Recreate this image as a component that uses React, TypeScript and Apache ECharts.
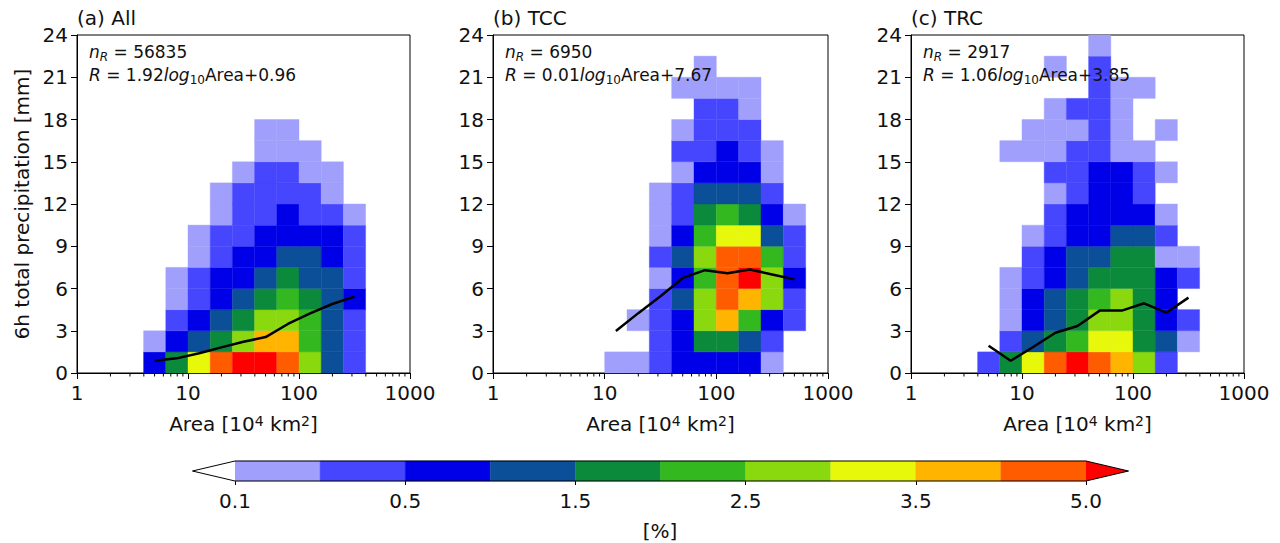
import React, { useEffect, useRef } from 'react';
import * as echarts from 'echarts';

// ---- bins ----
const areaEdges = [1, 1.585, 2.512, 3.981, 6.31, 10, 15.85, 25.12, 39.81, 63.1, 100, 158.5, 251.2, 398.1, 631, 1000];
const precipEdges = [0, 1.5, 3, 4.5, 6, 7.5, 9, 10.5, 12, 13.5, 15, 16.5, 18, 19.5, 21, 22.5, 24];
const minorTickAreas = [2, 3, 4, 5, 6, 7, 8, 9, 20, 30, 40, 50, 60, 70, 80, 90, 200, 300, 400, 500, 600, 700, 800, 900];

// ---- colour levels [%] ----
const levels = [0.1, 0.3, 0.5, 1.0, 1.5, 2.0, 2.5, 3.0, 3.5, 4.0, 5.0];
const levelLabels = ['0.1', '0.3', '0.5', '1.0', '1.5', '2.0', '2.5', '3.0', '3.5', '4.0', '5.0'];
const levelColors = ['#a0a0fc', '#4646ff', '#0000e8', '#0b4f98', '#0b8a3c', '#33b81f', '#8ad80e', '#e8f80a', '#ffb400', '#ff5c00'];
const overColor = '#ff0000';
const underColor = '#ffffff';

// ---- panel (a) All: columns of frequency [%] from first area bin, rows from 0 mm upward ----
const allFirstBin = 3;
const allColumns = [
  [0.8, 0.2],
  [1.8, 0.8, 0.4, 0.2, 0.2],
  [3.2, 1.2, 0.8, 0.4, 0.4, 0.2, 0.2],
  [4.5, 1.8, 1.2, 0.8, 0.8, 0.4, 0.4, 0.2, 0.2],
  [5.3, 2.8, 1.8, 1.2, 0.8, 0.8, 0.4, 0.4, 0.4, 0.2],
  [5.3, 3.8, 2.8, 1.8, 1.2, 0.8, 0.8, 0.4, 0.4, 0.4, 0.2, 0.2],
  [4.5, 3.8, 2.8, 2.2, 1.8, 1.2, 0.8, 0.8, 0.4, 0.4, 0.2, 0.2],
  [2.8, 2.2, 2.2, 1.8, 1.2, 1.2, 0.8, 0.4, 0.4, 0.2, 0.2],
  [1.2, 1.2, 1.2, 1.2, 1.2, 0.8, 0.8, 0.4, 0.2, 0.2],
  [0.4, 0.4, 0.4, 0.8, 0.4, 0.4, 0.4, 0.2],
];
const allLineArea = [5.0, 7.9, 12.6, 20.0, 31.6, 50.1, 79.4, 125.9, 199.5, 316.2];
const allLinePrecip = [0.87, 1.04, 1.4, 1.82, 2.22, 2.55, 3.48, 4.24, 4.9, 5.42];

// ---- panel (b) TCC ----
const tccFirstBin = 5;
const tccColumns = [
  [0.2],
  [0.2, 0, 0.2],
  [0.4, 0.4, 0.4, 0.4, 0.2, 0.4, 0.2, 0.2, 0.2],
  [0.8, 0.8, 0.8, 1.2, 0.8, 1.2, 0.8, 0.4, 0.4, 0.2, 0.4, 0.2, 0, 0.2],
  [0.8, 1.8, 2.8, 2.8, 2.2, 2.8, 2.2, 1.8, 1.2, 0.8, 0.4, 0.4, 0.4, 0.2, 0.2],
  [0.8, 1.8, 3.8, 4.5, 4.5, 4.5, 3.2, 2.2, 1.2, 0.8, 0.8, 0.4, 0.4, 0.2],
  [0.8, 1.2, 2.2, 3.8, 5.3, 4.5, 3.2, 1.8, 1.2, 0.8, 0.4, 0.4, 0.2, 0.2],
  [0.2, 0.4, 0.8, 2.8, 2.8, 2.2, 1.2, 0.8, 0.4, 0.2, 0.2],
  [0, 0, 0.4, 0.4, 0.8, 0.4, 0.4, 0.2],
];
const tccLineArea = [12.6, 20.0, 31.6, 50.1, 79.4, 125.9, 199.5, 316.2, 501.2];
const tccLinePrecip = [2.98, 4.25, 5.45, 6.75, 7.3, 7.08, 7.35, 7.0, 6.65];

// ---- panel (c) TRC ----
const trcFirstBin = 3;
const trcColumns = [
  [0.4],
  [1.8, 0.4, 0.2, 0.2, 0.2, 0, 0, 0, 0, 0, 0.2],
  [3.2, 1.2, 0.8, 0.8, 0.4, 0.4, 0.2, 0, 0, 0, 0.2, 0.2],
  [4.5, 1.8, 1.2, 1.2, 0.8, 0.8, 0.4, 0.4, 0.2, 0.4, 0.2, 0.2, 0.2, 0, 0.2],
  [5.3, 2.2, 1.8, 1.8, 1.2, 1.2, 0.8, 0.8, 0.4, 0.4, 0.4, 0.2, 0.4],
  [4.5, 3.2, 2.8, 2.2, 1.8, 1.2, 0.8, 0.8, 0.8, 0.8, 0.4, 0.4, 0.4, 0.4, 0.4, 0.2],
  [3.8, 3.2, 2.8, 2.8, 1.8, 1.8, 1.2, 0.8, 0.8, 0.8, 0.2, 0.2, 0.2, 0.2],
  [2.8, 1.8, 1.8, 1.8, 1.8, 1.8, 1.2, 0.8, 0.4, 0.4, 0.2, 0, 0, 0.2],
  [0.4, 1.2, 0.8, 0.8, 0.8, 0.2, 0.4, 0.2, 0, 0.2, 0, 0.2],
  [0, 0.2, 0.4, 0, 0.4, 0.2],
];
const trcLineArea = [5.0, 7.9, 12.6, 20.0, 31.6, 50.1, 79.4, 125.9, 199.5, 316.2];
const trcLinePrecip = [1.94, 0.87, 1.85, 2.86, 3.34, 4.43, 4.43, 4.95, 4.28, 5.35];

// ---- texts ----
const panelTitles = ['(a) All', '(b) TCC', '(c) TRC'];
const panelCounts = ['56835', '6950', '2917'];
const fitSlopes = ['1.92', '0.01', '1.06'];
const fitIntercepts = ['0.96', '7.67', '3.85'];

const FONT = 'DejaVu Sans';
const TXT = '#111111';

const gridLefts = [77, 493, 911];
const gridWidths = [333, 335, 333];
const GRID_TOP = 35;
const GRID_H = 338;

function colorFor(v: number): string {
  if (v >= levels[levels.length - 1]) return overColor;
  if (v < levels[0]) return underColor;
  for (let i = 0; i < levelColors.length; i++) {
    if (v >= levels[i] && v < levels[i + 1]) return levelColors[i];
  }
  return overColor;
}

function buildCells(first: number, cols: number[][]) {
  const out: number[][] = [];
  cols.forEach((col, ci) => {
    col.forEach((v, j) => {
      if (v > 0) {
        const k = first + ci;
        out.push([areaEdges[k], precipEdges[j], v, k, j]);
      }
    });
  });
  return out;
}

export default function App() {
  const ref = useRef<HTMLDivElement>(null);
  useEffect(() => {
    if (!ref.current) return;
    const chart = echarts.init(ref.current, undefined, { renderer: 'svg' });
    const panels = [
      { first: allFirstBin, cols: allColumns, lx: allLineArea, ly: allLinePrecip },
      { first: tccFirstBin, cols: tccColumns, lx: tccLineArea, ly: tccLinePrecip },
      { first: trcFirstBin, cols: trcColumns, lx: trcLineArea, ly: trcLinePrecip },
    ];

    const grids: any[] = panels.map((_, i) => ({
      left: gridLefts[i], top: GRID_TOP, width: gridWidths[i], height: GRID_H,
      show: true, borderColor: '#000', borderWidth: 1, backgroundColor: 'transparent',
      containLabel: false, outerBoundsMode: 'none',
    }));
    grids.push({ left: 235, top: 461, width: 851, height: 20, show: false, containLabel: false, outerBoundsMode: 'none' });

    const xAxes: any[] = panels.map((_, i) => ({
      type: 'log', logBase: 10, min: 1, max: 1000, gridIndex: i,
      axisLine: { show: true, onZero: false, lineStyle: { color: '#000', width: 1 } },
      axisTick: { show: true, inside: false, length: 6, lineStyle: { color: '#000', width: 1 } },
      axisLabel: { show: true, fontSize: 20, fontFamily: FONT, color: TXT, margin: 10, formatter: (v: number) => String(Math.round(v)) },
      splitLine: { show: false }, minorTick: { show: false }, minorSplitLine: { show: false },
    }));
    xAxes.push({
      type: 'value', min: 0, max: 10, interval: 2, gridIndex: 3,
      axisLine: { show: false },
      axisTick: { show: true, length: 4, lineStyle: { color: '#000', width: 1 } },
      axisLabel: { fontSize: 20, fontFamily: FONT, color: TXT, margin: 10, formatter: (v: number) => levelLabels[Math.round(v)] },
      splitLine: { show: false },
    });
    const yAxes: any[] = panels.map((_, i) => ({
      type: 'value', min: 0, max: 24, interval: 3, gridIndex: i,
      axisLine: { show: true, onZero: false, lineStyle: { color: '#000', width: 1 } },
      axisTick: { show: true, inside: false, length: 6, lineStyle: { color: '#000', width: 1 } },
      axisLabel: { fontSize: 20, fontFamily: FONT, color: TXT, margin: 9 },
      splitLine: { show: false },
    }));
    yAxes.push({ type: 'value', min: 0, max: 1, gridIndex: 3, show: false });

    const series: any[] = [];
    panels.forEach((p, i) => {
      series.push({
        type: 'custom', xAxisIndex: i, yAxisIndex: i, clip: false, silent: true,
        data: buildCells(p.first, p.cols),
        encode: { x: 0, y: 1 },
        renderItem: (params: any, api: any) => {
          const k = api.value(3);
          const j = api.value(4);
          const v = api.value(2);
          const p0 = api.coord([areaEdges[k], precipEdges[j]]);
          const p1 = api.coord([areaEdges[k + 1], precipEdges[j + 1]]);
          const c = colorFor(v);
          return {
            type: 'rect',
            shape: { x: p0[0], y: p1[1], width: p1[0] - p0[0], height: p0[1] - p1[1] },
            style: { fill: c, stroke: c, lineWidth: 0.4 },
          };
        },
        z: 1,
      });
      series.push({
        type: 'custom', xAxisIndex: i, yAxisIndex: i, clip: false, silent: true,
        data: minorTickAreas.map((a) => [a, 0]),
        renderItem: (params: any, api: any) => {
          const pt = api.coord([api.value(0), 0]);
          return { type: 'line', shape: { x1: pt[0], y1: pt[1], x2: pt[0], y2: pt[1] + 3.5 }, style: { stroke: '#000', lineWidth: 1 } };
        },
        z: 3,
      });
      series.push({
        type: 'line', xAxisIndex: i, yAxisIndex: i, silent: true,
        data: p.lx.map((x, n) => [x, p.ly[n]]),
        showSymbol: false, symbol: 'none',
        lineStyle: { color: '#000', width: 2.5 },
        z: 5,
      });
    });

    // colorbar
    series.push({
      type: 'custom', xAxisIndex: 3, yAxisIndex: 3, clip: false, silent: true,
      data: levelColors.map((_, i) => [i, 0]),
      renderItem: (params: any, api: any) => {
        const i = api.value(0);
        const a = api.coord([i, 0]);
        const b = api.coord([i + 1, 1]);
        return { type: 'rect', shape: { x: a[0], y: b[1], width: b[0] - a[0], height: a[1] - b[1] }, style: { fill: levelColors[i], stroke: levelColors[i], lineWidth: 0.4 } };
      },
    });
    series.push({
      type: 'custom', xAxisIndex: 3, yAxisIndex: 3, clip: false, silent: true,
      data: [[0, 0]],
      renderItem: (params: any, api: any) => {
        const n = levelColors.length;
        const bl = api.coord([0, 0]);
        const tl = api.coord([0, 1]);
        const br = api.coord([n, 0]);
        const tr = api.coord([n, 1]);
        const lt = api.coord([-0.5, 0.5]);
        const rt = api.coord([n + 0.5, 0.5]);
        return {
          type: 'group',
          children: [
            { type: 'polygon', shape: { points: [tl, lt, bl] }, style: { fill: underColor } },
            { type: 'polygon', shape: { points: [tr, rt, br] }, style: { fill: overColor } },
            { type: 'polygon', shape: { points: [lt, tl, tr, rt, br, bl] }, style: { fill: 'none', stroke: '#000', lineWidth: 1 } },
          ],
        };
      },
    });

    const graphics: any[] = [];
    panels.forEach((_, i) => {
      const left = gridLefts[i];
      graphics.push({
        type: 'text', x: left, y: 18, z: 100,
        style: { text: panelTitles[i], fontSize: 20, fontFamily: FONT, fill: TXT, align: 'left', verticalAlign: 'middle' },
      });
      graphics.push({
        type: 'text', x: left + 12, y: 52, z: 100,
        style: {
          text: '{it|n}{sub|R} = ' + panelCounts[i],
          fontSize: 17, fontFamily: FONT, fill: TXT, align: 'left', verticalAlign: 'middle',
          rich: {
            it: { fontStyle: 'italic', fontSize: 17, fontFamily: FONT, fill: TXT, lineHeight: 22 },
            sub: { fontStyle: 'italic', fontSize: 12, fontFamily: FONT, fill: TXT, lineHeight: 12, verticalAlign: 'bottom' },
          },
        },
      });
      graphics.push({
        type: 'text', x: left + 12, y: 75, z: 100,
        style: {
          text: '{it|R} = ' + fitSlopes[i] + '{it|log}{sub|10}Area+' + fitIntercepts[i],
          fontSize: 17, fontFamily: FONT, fill: TXT, align: 'left', verticalAlign: 'middle',
          rich: {
            it: { fontStyle: 'italic', fontSize: 17, fontFamily: FONT, fill: TXT, lineHeight: 22 },
            sub: { fontSize: 12, fontFamily: FONT, fill: TXT, lineHeight: 12, verticalAlign: 'bottom' },
          },
        },
      });
      graphics.push({
        type: 'text', x: left + gridWidths[i] / 2, y: 424, z: 100,
        style: {
          text: 'Area [10{sup|4} km{sup|2}]',
          fontSize: 20, fontFamily: FONT, fill: TXT, align: 'center', verticalAlign: 'middle',
          rich: {
            sup: { fontSize: 14, fontFamily: FONT, fill: TXT, lineHeight: 14, verticalAlign: 'top' },
          },
        },
      });
    });
    graphics.push({
      type: 'text', x: 22, y: 204, rotation: Math.PI / 2, z: 100,
      style: { text: '6h total precipitation [mm]', fontSize: 20, fontFamily: FONT, fill: TXT, align: 'center', verticalAlign: 'middle' },
    });
    graphics.push({
      type: 'text', x: 660, y: 531, z: 100,
      style: { text: '[%]', fontSize: 20, fontFamily: FONT, fill: TXT, align: 'center', verticalAlign: 'middle' },
    });

    chart.setOption({
      animation: false,
      backgroundColor: '#ffffff',
      grid: grids,
      xAxis: xAxes,
      yAxis: yAxes,
      series,
      graphic: graphics,
    });
    return () => chart.dispose();
  }, []);
  return <div ref={ref} style={{ position: 'fixed', left: 0, top: 0, width: 1280, height: 543 }} />;
}
